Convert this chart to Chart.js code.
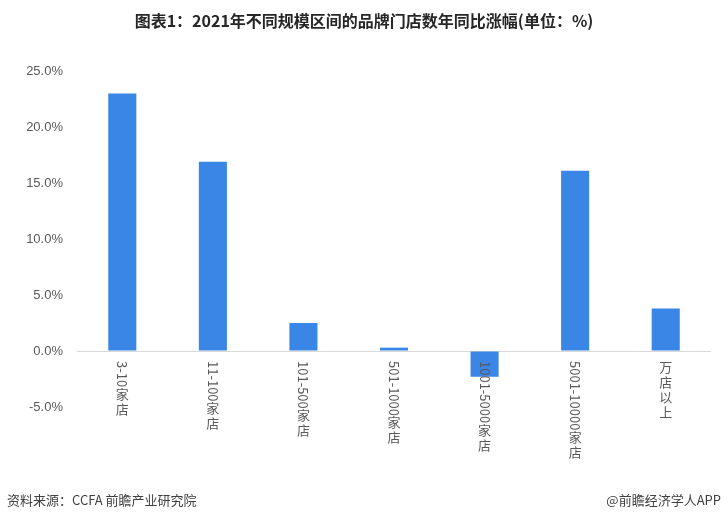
<!DOCTYPE html>
<html>
<head>
<meta charset="utf-8">
<script src="https://cdn.jsdelivr.net/npm/chart.js@4/dist/chart.umd.min.js"></script>
<style>
  html, body { margin: 0; padding: 0; background: #fff; }
  #wrap { position: relative; width: 728px; height: 521px; }
  #title { position: absolute; left: 0; top: 8px; width: 728px; text-align: center;
    font: bold 16px "Noto Sans CJK SC", sans-serif; color: #262626; }
  .foot { position: absolute; top: 490px; font: 13px "Noto Sans CJK SC", sans-serif; color: #404040; }
</style>
</head>
<body>
<div id="wrap">
  <canvas id="myChart" width="728" height="521"></canvas>
  <div id="title">图表1：2021年不同规模区间的品牌门店数年同比涨幅(单位：%)</div>
  <div class="foot" style="left:7px">资料来源：CCFA 前瞻产业研究院</div>
  <div class="foot" style="right:7px">@前瞻经济学人APP</div>
</div>
<script>
// dati
const categorie = ['3-10家店', '11-100家店', '101-500家店', '501-1000家店', '1001-5000家店', '5001-10000家店', '万店以上'];
const valori = [23.0, 16.9, 2.5, 0.3, -2.3, 16.1, 3.8];
const tickY = [-5, 0, 5, 10, 15, 20, 25];

const coloreBarre = '#3a86e6';
const coloreTesto = '#595959';

// etichette verticali: cifre ruotate, caratteri cinesi dritti
const labelVerticali = {
  id: 'labelVerticali',
  afterDraw: (chart) => {
    const { ctx } = chart;
    const x = chart.scales.x;
    const y = chart.scales.y;
    const y0 = y.getPixelForValue(0) + 10;
    ctx.save();
    ctx.fillStyle = coloreTesto;
    ctx.font = '13px "Noto Sans CJK SC", sans-serif';
    categorie.forEach((lab, i) => {
      const cx = x.getPixelForValue(i);
      let cy = y0;
      const pezzi = lab.match(/[\x00-\x7F]+|[^\x00-\x7F]/g);
      pezzi.forEach(p => {
        if (/^[\x00-\x7F]+$/.test(p)) {
          const w = ctx.measureText(p).width;
          ctx.save();
          ctx.translate(cx, cy);
          ctx.rotate(Math.PI / 2);
          ctx.textAlign = 'left';
          ctx.textBaseline = 'middle';
          ctx.fillText(p, 0, 0);
          ctx.restore();
          cy += w;
        } else {
          ctx.textAlign = 'center';
          ctx.textBaseline = 'top';
          ctx.fillText(p, cx, cy);
          cy += 15;
        }
      });
    });
    ctx.restore();
  }
};

const ctx = document.getElementById('myChart');
new Chart(ctx, {
  type: 'bar',
  data: {
    labels: categorie,
    datasets: [{
      data: valori,
      backgroundColor: coloreBarre,
      barPercentage: 0.31,
      categoryPercentage: 1
    }]
  },
  options: {
    responsive: false,
    animation: false,
    layout: { padding: { top: 71, right: 17, bottom: 114, left: 0 } },
    plugins: {
      legend: { display: false },
      tooltip: { enabled: false }
    },
    scales: {
      x: { display: false },
      y: {
        min: -5,
        max: 25,
        afterFit: (scale) => { scale.width = 77; },
        afterBuildTicks: (scale) => { scale.ticks = tickY.map(v => ({ value: v })); },
        border: { display: false },
        grid: {
          drawTicks: false,
          color: (c) => (c.tick && c.tick.value === 0) ? '#d9d9d9' : 'rgba(0,0,0,0)'
        },
        ticks: {
          padding: 14,
          color: coloreTesto,
          font: { size: 13, family: '"Liberation Sans", sans-serif' },
          callback: (v) => v.toFixed(1) + '%'
        }
      }
    }
  },
  plugins: [labelVerticali]
});
</script>
</body>
</html>
